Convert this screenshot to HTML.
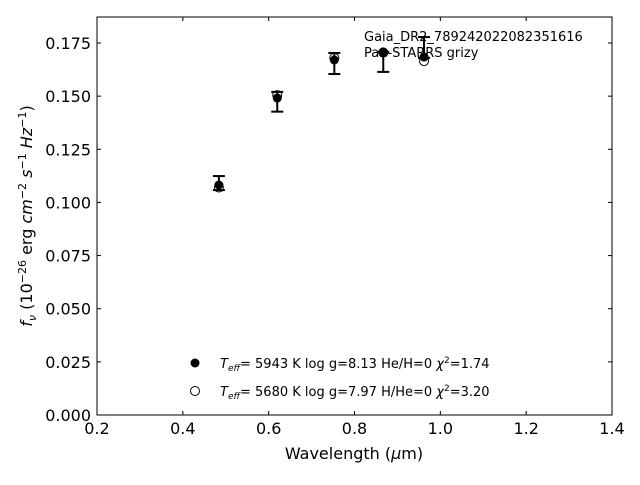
<!DOCTYPE html>
<html><head><meta charset="utf-8"><style>body{margin:0;background:#fff}svg{font-family:"DejaVu Sans","Liberation Sans",sans-serif}</style></head>
<body>
<svg id="c" width="640" height="480" viewBox="0 0 640 480">
<rect x="97" y="17" width="515" height="398" fill="none" stroke="#000" stroke-width="1"/>
<g id="ticks"></g><g id="marks"></g>
<text x="364" y="41" font-size="13">Gaia_DR2_789242022082351616</text>
<text x="364" y="57" font-size="13">Pan-STARRS grizy</text>
<text x="354" y="459" font-size="16" text-anchor="middle">Wavelength (<tspan font-style="italic">μ</tspan>m)</text>
<text transform="translate(32,216) rotate(-90)" font-size="16" text-anchor="middle"><tspan font-style="italic">f<tspan font-size="11" dy="4">ν</tspan></tspan><tspan dy="-4"> (10</tspan><tspan font-size="11" dy="-6">−26</tspan><tspan dy="6"> erg </tspan><tspan font-style="italic">cm</tspan><tspan font-size="11" dy="-6">−2</tspan><tspan dy="6"> </tspan><tspan font-style="italic">s</tspan><tspan font-size="11" dy="-6">−1</tspan><tspan dy="6"> </tspan><tspan font-style="italic">Hz</tspan><tspan font-size="11" dy="-6">−1</tspan><tspan dy="6">)</tspan></text>
<circle cx="195" cy="363" r="4.5" fill="#000"/>
<text x="220" y="368" font-size="13"><tspan font-style="italic">T<tspan font-size="9" dy="3">eff</tspan></tspan><tspan dy="-3">=  5943 K  log g=8.13  He/H=0  </tspan><tspan font-style="italic">χ</tspan><tspan font-size="9" dy="-5">2</tspan><tspan dy="5">=1.74</tspan></text>
<circle cx="195" cy="391" r="4.5" fill="#fff" stroke="#000"/>
<text x="220" y="396" font-size="13"><tspan font-style="italic">T<tspan font-size="9" dy="3">eff</tspan></tspan><tspan dy="-3">=  5680 K  log g=7.97  H/He=0  </tspan><tspan font-style="italic">χ</tspan><tspan font-size="9" dy="-5">2</tspan><tspan dy="5">=3.20</tspan></text>
</svg>
<script>
const wavelengths=[0.484,0.62,0.753,0.867,0.962];
const observedFlux=[0.1082,0.1491,0.167,0.1708,0.1684];
const errLow=[0.1058,0.1427,0.1604,0.1614,0.168];
const errHigh=[0.1124,0.152,0.1703,0.1708,0.1778];
const modelFlux=[0.107,0.1505,0.168,0.1705,0.1665];
const xTicks=[0.2,0.4,0.6,0.8,1.0,1.2,1.4];
const yTicks=[0,0.025,0.05,0.075,0.1,0.125,0.15,0.175];
const X=v=>97+(v-0.2)/1.2*515, Y=v=>415-v/0.025*53.143;
const NS="http://www.w3.org/2000/svg";
function mk(t,a,p){const e=document.createElementNS(NS,t);for(const k in a)e.setAttribute(k,a[k]);p.appendChild(e);return e;}
const tg=document.getElementById('ticks'), mg=document.getElementById('marks');
xTicks.forEach(v=>{const x=X(v);
 let l=mk('line',{x1:x,x2:x,y1:415,y2:411,stroke:'#000'},tg);
 
 
 let l2=mk('line',{x1:x,x2:x,y1:17,y2:21,stroke:'#000'},tg);
 
 
 let t=mk('text',{x:x,y:434,'font-size':16,'text-anchor':'middle'},tg);t.textContent=v.toFixed(1);
 
 });
yTicks.forEach(v=>{const y=Y(v);
 let l=mk('line',{x1:97,x2:101,y1:y,y2:y,stroke:'#000'},tg);
 
 
 let l2=mk('line',{x1:612,x2:608,y1:y,y2:y,stroke:'#000'},tg);
 
 
 let t=mk('text',{x:91,y:y+6,'font-size':16,'text-anchor':'end'},tg);t.textContent=v.toFixed(3);
 
 });
wavelengths.forEach((w,i)=>{const x=X(w);
 let o=mk('circle',{cx:x,cy:Y(modelFlux[i]),r:4.5,fill:'#fff',stroke:'#000'},mg);
 
 
 let g=mk('g',{stroke:'#000','stroke-width':2},mg);
 
 
 mk('line',{x1:x,x2:x,y1:Y(errLow[i]),y2:Y(errHigh[i])},g);
 mk('line',{x1:x-6,x2:x+6,y1:Y(errLow[i]),y2:Y(errLow[i])},g);
 mk('line',{x1:x-6,x2:x+6,y1:Y(errHigh[i]),y2:Y(errHigh[i])},g);
 let f=mk('circle',{cx:x,cy:Y(observedFlux[i]),r:4.5,fill:'#000'},mg);
 
 });
</script>
</body></html>
